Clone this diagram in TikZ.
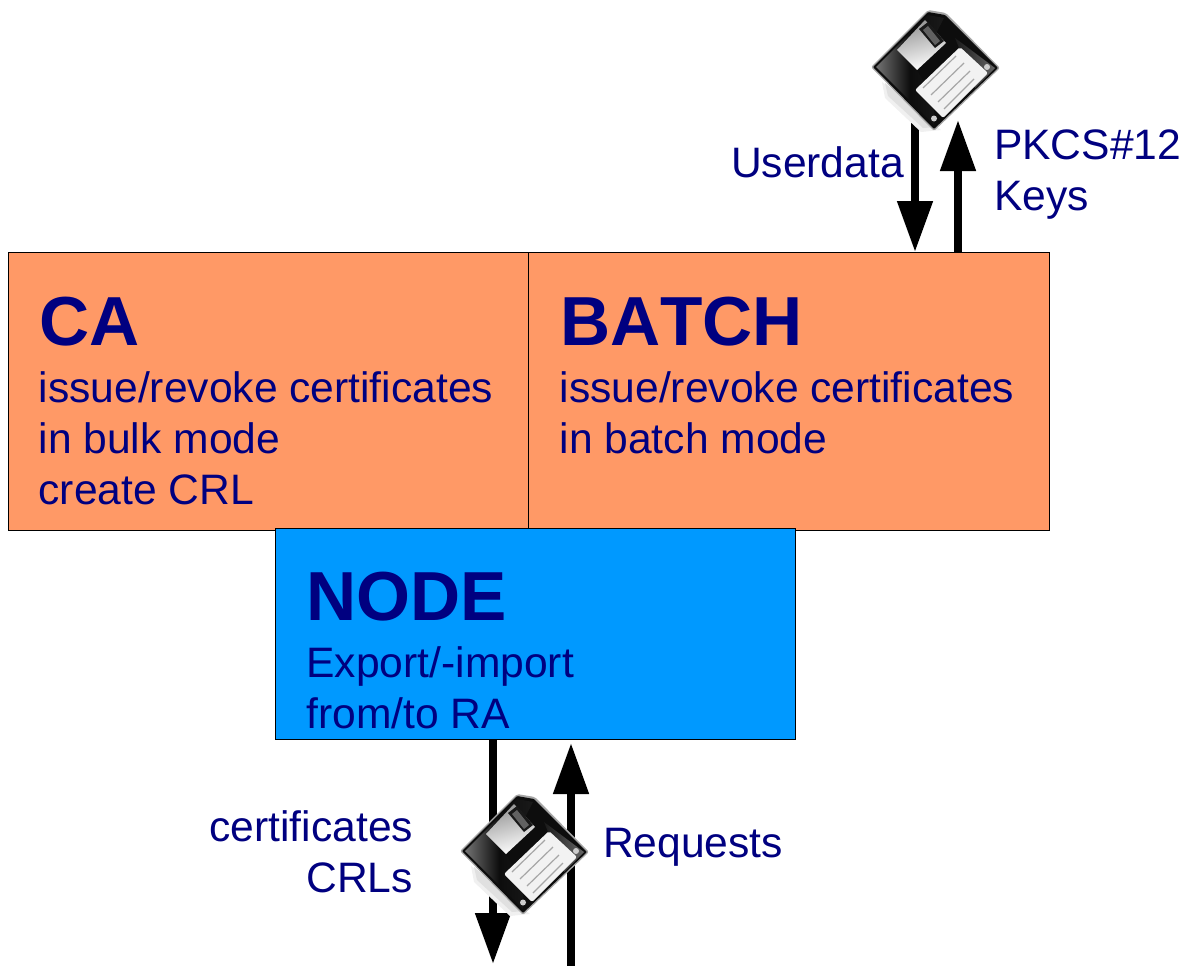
\documentclass[tikz,border=0pt]{standalone}
\usepackage{fontspec}
\setmainfont{Liberation Sans}
\usetikzlibrary{arrows.meta}
\definecolor{navytext}{HTML}{000080}
\definecolor{orangebox}{HTML}{FF9966}
\definecolor{bluebox}{HTML}{0099FF}
\tikzset{
  box/.style={draw=black,line width=1pt,anchor=north west,inner sep=0pt,outer sep=0pt},
  txt/.style={text=navytext,inner sep=0pt,outer sep=0pt,align=left,anchor=base west,font=\fontsize{42.6}{51}\selectfont},
  head/.style={txt,font=\bfseries\fontsize{69.4}{70}\selectfont\addfontfeatures{Kerning=Off}},
  flow/.style={line width=8pt,draw=black,-{Triangle[length=51pt,width=34pt]}},
  pics/floppy/.style={code={
    % shadow
    \fill[black!6] (-53,14) -- (-50,30) -- (-14,64) -- (6,62) -- cycle;
    \fill[black!12] (-50,15) -- (-47,28) -- (-12,60) -- (2,59) -- cycle;
    % outer body
    \fill[black!35,rounded corners=2pt] (-64,-1) -- (-7,-58) -- (11,-55) -- (65,0) -- (-1,63) -- cycle;
    \fill[black!95,rounded corners=1pt] (-62,-1) -- (-7,-56) -- (10,-53) -- (63,0) -- (-1,61) -- cycle;
    \shade[left color=black!55,right color=black!90,middle color=black!95]
      (-59,-1) -- (-7,-53) -- (9,-50) -- (-18,2) -- (-1,32) -- (-1,57) -- cycle;
    \shade[left color=black!90,right color=black!60]
      (20,-30) -- (60,0) -- (40,20) -- cycle;
    % shutter
    \shade[left color=black!42,right color=white,shading angle=15]
      (-38,-18) -- (-10,-48) -- (11,-25) -- (-18,2) -- cycle;
    \fill[black!90] (-16,-39) -- (-7,-46) -- (9,-27) -- (0,-20) -- cycle;
    \fill[black!62] (-12,-38) -- (-7,-42) -- (5,-27) -- (0,-23) -- cycle;
    % label
    \fill[black!5,rounded corners=2pt] (-20,22) -- (25,-21) -- (53,5) -- (8,50) -- cycle;
    \draw[black!35,line width=1.2pt]
      (-12,20) -- (21,-12)
      (-4,27) -- (29,-5)
      (3,34) -- (35,3)
      (9,41) -- (39,11);
    % corner dots
    \fill[black!20] (52,-1) circle (3pt) (-1,50.5) circle (3pt);
  }}
}
\begin{document}
\begin{tikzpicture}[x=1pt,y=-1pt]
\useasboundingbox (0,0) rectangle (1186,966);
% boxes
\node[box,fill=orangebox,minimum width=520pt,minimum height=278pt] (ca) at (8,252) {};
\node[box,fill=orangebox,minimum width=521pt,minimum height=278pt] (batch) at (528,252) {};
\node[box,fill=bluebox,minimum width=520.5pt,minimum height=211pt] (nodebox) at (275,528) {};
% box text
\node[head] (catitle) at (39,345) {CA};
\node[txt] (cabody) at (38.6,504) {issue/revoke certificates\\in bulk mode\\create CRL};
\node[head] (batchtitle) at (560,345) {BATCH};
\node[txt] (batchbody) at (559.6,453) {issue/revoke certificates\\in batch mode};
\node[head] (nodetitle) at (306.4,620) {NODE};
\node[txt] (nodebody) at (306.4,728) {Export/-import\\from/to RA};
% coordinates
\coordinate (userfrom) at (915,120);
\coordinate (pkcsto) at (958,120);
\coordinate (certto) at (493,964);
\coordinate (reqfrom) at (571,966);
\coordinate (reqto) at (571,743);
% arrows
\draw[flow] (userfrom) -- (userfrom |- batch.north);
\draw[flow] (pkcsto |- batch.north) -- (pkcsto);
\draw[flow] (certto |- nodebox.south) -- (certto);
\draw[flow] (reqfrom) -- (reqto);
% icons
\pic at (935,68) {floppy};
\pic at (524,852) {floppy};
% labels
\node[txt] (userdata) at (731,177) {Userdata};
\node[txt] (pkcs) at (994,210) {PKCS\#12\\Keys};
\node[txt,align=right,anchor=base east] (certs) at (413,892) {certificates\\CRLs};
\node[txt] (requests) at (603,857) {Requests};
\end{tikzpicture}
\end{document}
